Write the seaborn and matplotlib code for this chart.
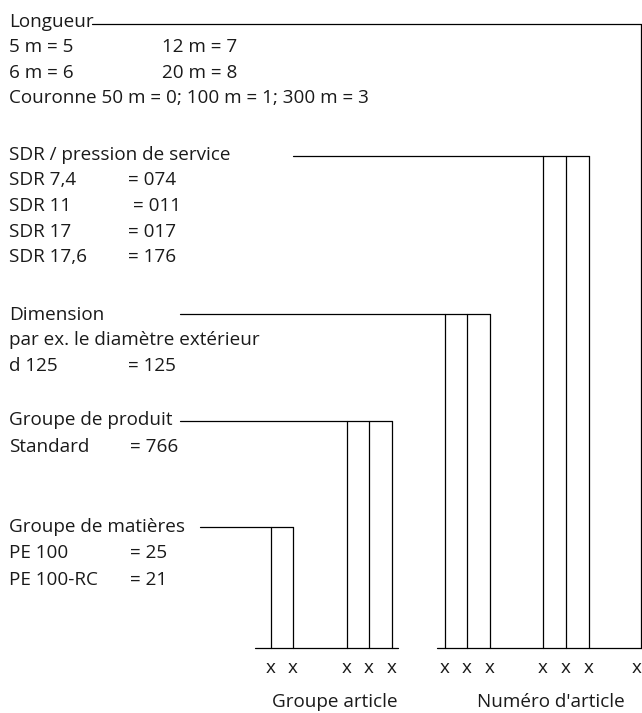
import matplotlib
matplotlib.use("Agg")
import matplotlib.pyplot as plt
import seaborn as sns
import pandas as pd

sns.set_theme(style="white")
plt.rcParams['font.family'] = ['Open Sans', 'DejaVu Sans']

# ---- content ----
left_lines = [
    "Longueur",
    "5 m = 5",
    "6 m = 6",
    "Couronne 50 m = 0; 100 m = 1; 300 m = 3",
    "SDR / pression de service",
    "SDR 7,4",
    "SDR 11",
    "SDR 17",
    "SDR 17,6",
    "Dimension",
    "par ex. le diamètre extérieur",
    "d 125",
    "Groupe de produit",
    "Standard",
    "Groupe de matières",
    "PE 100",
    "PE 100-RC",
]
left_y = [22, 47, 73, 98, 155, 180, 206, 232, 257, 315, 340, 366, 420, 447, 527, 553, 580]

value_lines = ["12 m = 7", "20 m = 8", "= 074", "= 011", "= 017", "= 176", "= 125", "= 766", "= 25", "= 21"]
value_x = [162, 162, 128, 133, 128, 128, 128, 130, 130, 130]
value_y = [47, 73, 180, 206, 232, 257, 366, 447, 553, 580]

group_labels = ["Groupe article", "Numéro d'article"]
group_label_x = [335, 551]

# connector groups: (start x of horizontal, y of horizontal, vertical x positions)
conn_start = [92, 293, 180, 180, 200]
conn_y = [24, 156, 314, 421, 527]
conn_verts = [[641], [543, 566, 589], [445, 467, 490], [347, 369, 392], [271, 293]]
base_y = 648
baselines = [(255, 398), (437, 645)]

# ---- build segments ----
rows = []
sid = 0
for xs, y, verts in zip(conn_start, conn_y, conn_verts):
    rows += [(sid, xs, y), (sid, max(verts), y)]
    sid += 1
    for vx in verts:
        rows += [(sid, vx, y), (sid, vx, base_y)]
        sid += 1
for x0, x1 in baselines:
    rows += [(sid, x0, base_y), (sid, x1, base_y)]
    sid += 1
seg = pd.DataFrame(rows, columns=["seg", "x", "y"])

fig = plt.figure(figsize=(6.42, 7.13), dpi=100)
ax = fig.add_axes([0, 0, 1, 1])
sns.lineplot(data=seg, x="x", y="y", units="seg", estimator=None, sort=False,
             color="black", linewidth=0.9, ax=ax, legend=False)
ax.set_xlim(0, 642)
ax.set_ylim(713, 0)
ax.axis("off")

fs = 13.6
tc = "#1a1a1a"
for t, y in zip(left_lines, left_y):
    ax.text(9, y, t, fontsize=fs, va="center", ha="left", color=tc)
for t, x, y in zip(value_lines, value_x, value_y):
    ax.text(x, y, t, fontsize=fs, va="center", ha="left", color=tc)

all_verts = sorted(v for vs in conn_verts for v in vs)
for vx in all_verts:
    if vx > 630:
        ax.text(642, 668, "x", fontsize=fs, va="center", ha="right", color=tc)
    else:
        ax.text(vx, 668, "x", fontsize=fs, va="center", ha="center", color=tc)
for t, x in zip(group_labels, group_label_x):
    ax.text(x, 702, t, fontsize=fs, va="center", ha="center", color=tc)

fig.savefig("out.png", dpi=100, facecolor="white")
